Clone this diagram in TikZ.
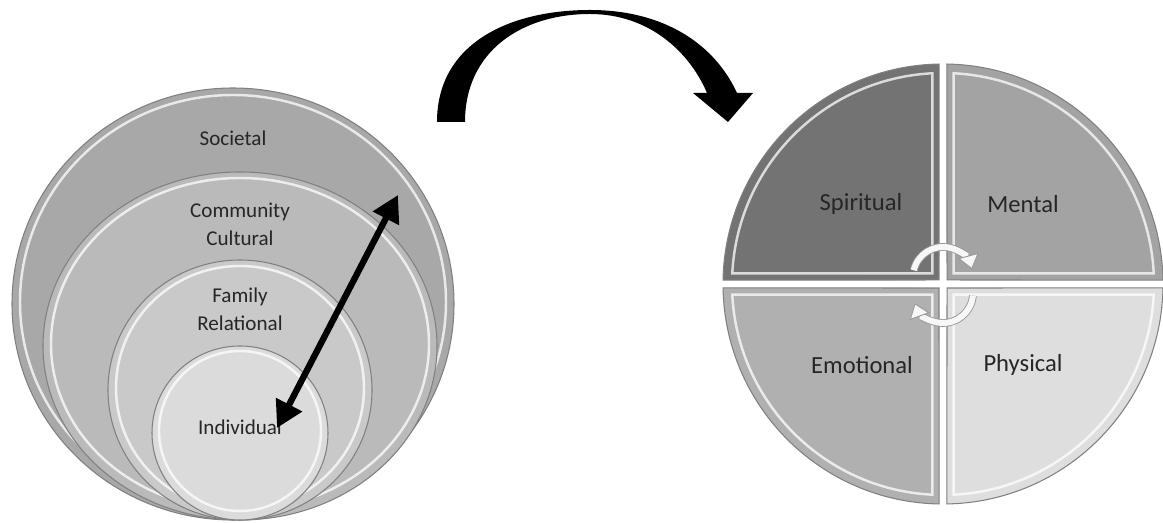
\documentclass[tikz,border=0pt]{standalone}
\usepackage{fontspec}
\setmainfont{Carlito}
\usetikzlibrary{arrows.meta,calc}

\begin{document}
\begin{tikzpicture}[x=0.02cm, y=0.02cm,
  disc/.style={fill=#1, draw=black!50, line width=0.6pt},
  shine/.style={draw=white, line width=1.4pt, opacity=0.75},
  lvl/.style={font=\fontsize{12}{16}\selectfont, text=black!85, align=center},
  part/.style={font=\fontsize{14}{16}\selectfont, text=black!85},
  dbl/.style={{Triangle[length=15pt,width=16pt]}-{Triangle[length=15pt,width=16pt]}, line width=3.6pt, black},
  turn/.style={draw=black!40, double=black!3, double distance=3.4pt, line width=0.5pt,
               -{Triangle[length=8pt,width=12pt,fill=black!3]}}
]
\useasboundingbox (0,0) rectangle (1163,523);

%% ---- Levels ----
\path[disc=black!34] (233,219) ellipse [x radius=221, y radius=216];
\path[shine] (233,221) ellipse [x radius=213, y radius=207];
\path[disc=black!27] (240,177) ellipse [x radius=197, y radius=174];
\path[shine] (240,179) ellipse [x radius=189, y radius=166];
\path[disc=black!21] (240,133) ellipse [x radius=132, y radius=130];
\path[shine] (240,135) ellipse [x radius=124, y radius=122];
\path[disc=black!14] (240,90) ellipse [x radius=88, y radius=87];
\path[shine] (240,92) ellipse [x radius=81, y radius=80];

\node[lvl] (soc) at (233,385) {Societal};
\node[lvl] (com) at (240,299) {Community\\Cultural};
\node[lvl] (fam) at (240,214) {Family\\Relational};
\node[lvl] (ind) at (240,96)  {Individual};

%% Level arrow
\coordinate (near) at (277,95);
\coordinate (far)  at (398,328);
\draw[dbl] (near) -- (far);

%% ---- Bend arrow ----
\coordinate (bendL) at (451,401);
\coordinate (bendR) at (728,401);
\fill[black] (437,401) .. controls (437,480) and (510,513) .. (590,513)
  .. controls (665,513) and (715,478) .. (737,430) -- (753,430) -- (bendR)
  -- (693,430) -- (707,430) .. controls (690,470) and (650,509) .. (590,509)
  .. controls (522,509) and (465,472) .. (465,401) -- cycle;

%% ---- Wheel ----
\coordinate (hub) at (943,239);
\foreach \a/\col in {90/black!55, 0/black!36, 180/black!31, 270/black!13} {
  \path[fill=\col, draw=black!50, line width=0.6pt] ($(hub)+(\a+45:5.7)$)
    -- ($(hub)+(\a+1:220)$) arc[start angle=\a+1, end angle=\a+89, radius=220] -- cycle;
  \draw[shine] ($(hub)+(\a+45:15)$)
    -- ($(hub)+(\a+2.9:211)$) arc[start angle=\a+2.9, end angle=\a+87.1, radius=211] -- cycle;
}

\node[part] (spi) at (861,319)  {Spiritual};
\node[part] (men) at (1023,319) {Mental};
\node[part] (emo) at (862,158)  {Emotional};
\node[part] (phy) at (1023,158) {Physical};

%% Turn arrows
\coordinate (spinT) at (943,246);
\coordinate (spinB) at (943,230);
\draw[turn] ($(spinT)+(167:30)$) arc[start angle=167, end angle=15, radius=30];
\draw[turn] ($(spinB)+(-5:30)$) arc[start angle=-5, end angle=-160, radius=30];

\end{tikzpicture}
\end{document}
